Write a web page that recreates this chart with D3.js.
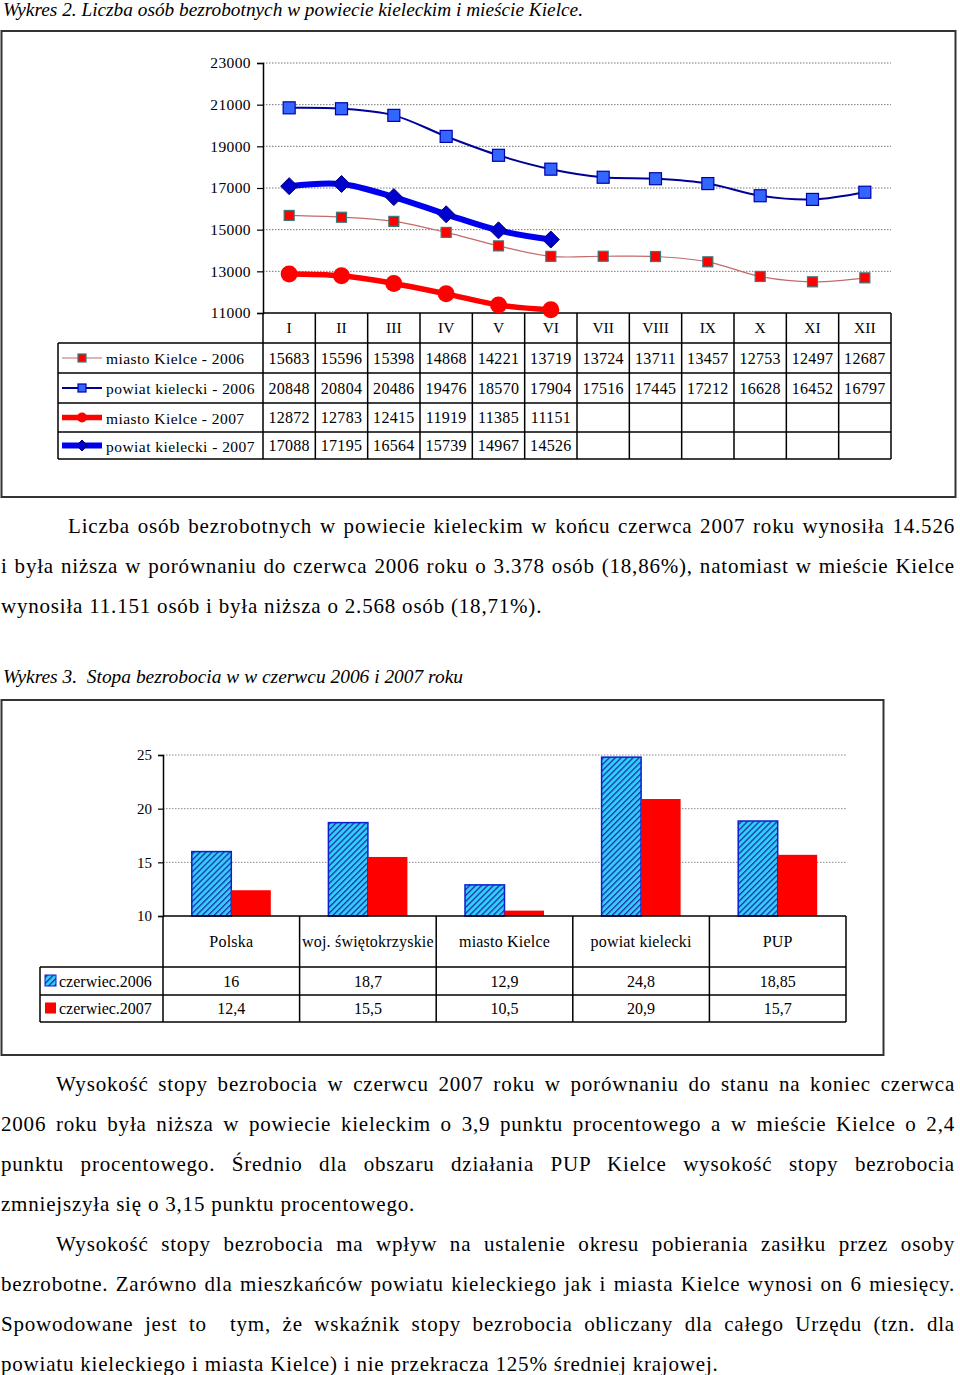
<!DOCTYPE html>
<html><head><meta charset="utf-8">
<script src="https://cdn.jsdelivr.net/npm/d3@7"></script>
<style>
body{margin:0;background:#fff;}
svg{display:block;font-family:"Liberation Serif","Times New Roman",serif;}
</style></head>
<body>
<script>
// ---------- DATA ----------
const months = ["I","II","III","IV","V","VI","VII","VIII","IX","X","XI","XII"];
const seriesNames = ["miasto Kielce - 2006","powiat kielecki - 2006","miasto Kielce - 2007","powiat kielecki - 2007"];
const miasto2006 = [15683,15596,15398,14868,14221,13719,13724,13711,13457,12753,12497,12687];
const powiat2006 = [20848,20804,20486,19476,18570,17904,17516,17445,17212,16628,16452,16797];
const miasto2007 = [12872,12783,12415,11919,11385,11151];
const powiat2007 = [17088,17195,16564,15739,14967,14526];
const lineTicks = [11000,13000,15000,17000,19000,21000,23000];

const barCats = ["Polska","woj. świętokrzyskie","miasto Kielce","powiat kielecki","PUP"];
const barSeries = ["czerwiec.2006","czerwiec.2007"];
const rate2006 = [16,18.7,12.9,24.8,18.85];
const rate2007 = [12.4,15.5,10.5,20.9,15.7];
const rateLabels2006 = ["16","18,7","12,9","24,8","18,85"];
const rateLabels2007 = ["12,4","15,5","10,5","20,9","15,7"];
const barTicks = [10,15,20,25];

const title1 = "Wykres 2. Liczba osób bezrobotnych w powiecie kieleckim i mieście Kielce.";
const title2 = "Wykres 3.  Stopa bezrobocia w w czerwcu 2006 i 2007 roku";
const para1 = [
 {t:"Liczba osób bezrobotnych w powiecie kieleckim w końcu czerwca 2007 roku wynosiła 14.526", indent:true, just:true},
 {t:"i była niższa w porównaniu do czerwca 2006 roku o 3.378 osób (18,86%), natomiast w mieście Kielce", just:true},
 {t:"wynosiła 11.151 osób i była niższa o 2.568 osób (18,71%).", just:false}
];
const para2 = [
 {t:"Wysokość stopy bezrobocia w czerwcu 2007 roku w porównaniu do stanu na koniec czerwca", indent:true, just:true},
 {t:"2006 roku była niższa w powiecie kieleckim o 3,9 punktu procentowego a w mieście Kielce o 2,4", just:true},
 {t:"punktu procentowego. Średnio dla obszaru działania PUP Kielce wysokość stopy bezrobocia", just:true},
 {t:"zmniejszyła się o 3,15 punktu procentowego.", just:false},
 {t:"Wysokość stopy bezrobocia ma wpływ na ustalenie okresu pobierania zasiłku przez osoby", indent:true, just:true},
 {t:"bezrobotne. Zarówno dla mieszkańców powiatu kieleckiego jak i miasta Kielce wynosi on 6 miesięcy.", just:true},
 {t:"Spowodowane jest to  tym, że wskaźnik stopy bezrobocia obliczany dla całego Urzędu (tzn. dla", just:true},
 {t:"powiatu kieleckiego i miasta Kielce) i nie przekracza 125% średniej krajowej.", just:false}
];

// ---------- SVG ----------
const W = 960, H = 1375;
const svg = d3.select("body").append("svg").attr("width",W).attr("height",H);
svg.append("rect").attr("width",W).attr("height",H).attr("fill","#fff");

const defs = svg.append("defs");
const pat = defs.append("pattern").attr("id","hatch").attr("patternUnits","userSpaceOnUse")
  .attr("width",4.2).attr("height",4.2).attr("patternTransform","rotate(45)");
pat.append("rect").attr("width",4.2).attr("height",4.2).attr("fill","#33ccff");
pat.append("line").attr("x1",0.6).attr("y1",0).attr("x2",0.6).attr("y2",4.2).attr("stroke","#1a2a99").attr("stroke-width",1.3);

// titles
svg.append("text").attr("x",3).attr("y",16).attr("font-size",19).attr("font-style","italic")
  .attr("textLength",580).attr("lengthAdjust","spacingAndGlyphs").text(title1);
svg.append("text").attr("x",3).attr("y",683).attr("font-size",19).attr("font-style","italic")
  .style("white-space","pre").attr("textLength",460).attr("lengthAdjust","spacingAndGlyphs").text(title2);

// frames
svg.append("rect").attr("x",1.5).attr("y",31).attr("width",954).attr("height",466)
  .attr("fill","none").attr("stroke","#333").attr("stroke-width",2);
svg.append("rect").attr("x",1.5).attr("y",700).attr("width",882).attr("height",355)
  .attr("fill","none").attr("stroke","#333").attr("stroke-width",2);

// ---------- LINE CHART ----------
const x1 = d3.scaleBand().domain(months).range([263,891]);
const y1 = d3.scaleLinear().domain([11000,23000]).range([313,63]);
const cx = m => x1(m) + x1.bandwidth()/2;
const g1 = svg.append("g");

g1.selectAll(".grid").data(lineTicks.filter(d=>d!==11000)).join("line")
  .attr("x1",263).attr("x2",891).attr("y1",d=>y1(d)).attr("y2",d=>y1(d))
  .attr("stroke","#777").attr("stroke-width",1).attr("stroke-dasharray","1.5,1.5");
const yAxis1 = d3.axisLeft(y1).tickValues(lineTicks).tickSize(6).tickFormat(d3.format("d"));
const ya = g1.append("g").attr("transform","translate(263,0)").call(yAxis1);
ya.select(".domain").attr("stroke","#000").attr("stroke-width",1.5);
ya.selectAll(".tick line").attr("stroke","#000").attr("stroke-width",1.2);
ya.selectAll(".tick text").attr("font-family","Liberation Serif").attr("font-size",15.5)
  .attr("fill","#000").attr("x",-12).attr("letter-spacing",0.4);

const rowTop = [343,373,403,432];
const rowBot = 459;
const tbl = g1.append("g").attr("stroke","#000").attr("stroke-width",1.5);
months.forEach(m=>{
  tbl.append("line").attr("x1",x1(m)).attr("x2",x1(m)).attr("y1",313).attr("y2",rowBot);
});
tbl.append("line").attr("x1",891).attr("x2",891).attr("y1",313).attr("y2",rowBot);
tbl.append("line").attr("x1",58).attr("x2",58).attr("y1",343).attr("y2",rowBot);
tbl.append("line").attr("x1",263).attr("x2",891).attr("y1",313).attr("y2",313);
rowTop.concat([rowBot]).forEach(yy=>{
  tbl.append("line").attr("x1",58).attr("x2",891).attr("y1",yy).attr("y2",yy);
});
g1.selectAll(".mlab").data(months).join("text")
  .attr("x",d=>cx(d)).attr("y",333).attr("text-anchor","middle").attr("font-size",15.5).text(d=>d);

const allSeries = [miasto2006,powiat2006,miasto2007,powiat2007];
allSeries.forEach((vals,si)=>{
  const yc = (rowTop[si] + (si<3?rowTop[si+1]:rowBot))/2;
  g1.selectAll(".v"+si).data(vals).join("text")
    .attr("x",(d,i)=>cx(months[i])).attr("y",yc+5.5).attr("text-anchor","middle")
    .attr("font-size",16).attr("letter-spacing",0.3).text(d=>d);
  g1.append("text").attr("x",106).attr("y",yc+6).attr("font-size",15.5).attr("letter-spacing",0.45)
    .text(seriesNames[si]);
});

const styles = [
  {line:"#c46a6a", lw:1.2, marker:"sq", size:10, fill:"#ff0000", stroke:"#3a7a7a"},
  {line:"#000099", lw:2, marker:"sq", size:12, fill:"#3366ff", stroke:"#0000aa"},
  {line:"#ff0000", lw:5.5, marker:"circle", size:8.5, fill:"#ff0000", stroke:"#ff0000"},
  {line:"#0000ee", lw:6, marker:"diamond", size:17, fill:"#0000cc", stroke:"#00007a"}
];
const lineGen = d3.line().x((d,i)=>cx(months[i])).y(d=>y1(d)).curve(d3.curveCatmullRom.alpha(0.5));

function drawMarker(sel, st, x, y){
  if(st.marker==="sq"){
    sel.append("rect").attr("x",x-st.size/2).attr("y",y-st.size/2).attr("width",st.size).attr("height",st.size)
      .attr("fill",st.fill).attr("stroke",st.stroke).attr("stroke-width",1.2);
  } else if(st.marker==="circle"){
    sel.append("circle").attr("cx",x).attr("cy",y).attr("r",st.size).attr("fill",st.fill);
  } else {
    const s = st.size/2;
    sel.append("path").attr("d",`M${x},${y-s}L${x+s},${y}L${x},${y+s}L${x-s},${y}Z`)
      .attr("fill",st.fill).attr("stroke",st.stroke).attr("stroke-width",1);
  }
}
[0,1,2,3].forEach(si=>{
  const st = styles[si], vals = allSeries[si];
  g1.append("path").datum(vals).attr("d",lineGen).attr("fill","none")
    .attr("stroke",st.line).attr("stroke-width",st.lw).attr("stroke-linejoin","round");
  const mg = g1.append("g");
  vals.forEach((v,i)=>drawMarker(mg, st, cx(months[i]), y1(v)));
  const yc = (rowTop[si] + (si<3?rowTop[si+1]:rowBot))/2;
  g1.append("line").attr("x1",62).attr("x2",102).attr("y1",yc).attr("y2",yc)
    .attr("stroke",st.line).attr("stroke-width",st.lw);
  const small = Object.assign({},st,{size: st.marker==="circle"?5: st.marker==="diamond"?11:8});
  drawMarker(g1, small, 82, yc);
});

// ---------- BAR CHART ----------
const x2 = d3.scaleBand().domain(barCats).range([163,846]);
const y2 = d3.scaleLinear().domain([10,25]).range([916,755]);
const bw = 39.5;
const xs = d3.scaleBand().domain(barSeries).range([x2.bandwidth()/2-bw, x2.bandwidth()/2+bw]);
const g2 = svg.append("g");

g2.selectAll(".grid2").data(barTicks.filter(d=>d!==10)).join("line")
  .attr("x1",163).attr("x2",846).attr("y1",d=>y2(d)).attr("y2",d=>y2(d))
  .attr("stroke","#888").attr("stroke-width",1).attr("stroke-dasharray","1.5,1.5");

const yAxis2 = d3.axisLeft(y2).tickValues(barTicks).tickSize(5).tickFormat(d3.format("d"));
const ya2 = g2.append("g").attr("transform","translate(163,0)").call(yAxis2);
ya2.select(".domain").attr("stroke","#000").attr("stroke-width",1.5);
ya2.selectAll(".tick line").attr("stroke","#000").attr("stroke-width",1.2);
ya2.selectAll(".tick text").attr("font-family","Liberation Serif").attr("font-size",15)
  .attr("fill","#000").attr("x",-11);

const barData = [rate2006, rate2007];
barData.forEach((vals,si)=>{
  g2.selectAll(".b"+si).data(vals).join("rect")
    .attr("x",(d,i)=>x2(barCats[i]) + xs(barSeries[si]))
    .attr("y",d=>y2(d)).attr("width",xs.bandwidth()).attr("height",d=>y2(10)-y2(d))
    .attr("fill", si===0 ? "url(#hatch)" : "#ff0000")
    .attr("stroke", si===0 ? "#0a1fd0" : "none").attr("stroke-width",1.5);
});

const t2 = g2.append("g").attr("stroke","#000").attr("stroke-width",1.5);
const bRows = [967,995,1022];
barCats.forEach(c=>{
  t2.append("line").attr("x1",x2(c)).attr("x2",x2(c)).attr("y1",916).attr("y2",1022);
});
t2.append("line").attr("x1",846).attr("x2",846).attr("y1",916).attr("y2",1022);
t2.append("line").attr("x1",163).attr("x2",846).attr("y1",916).attr("y2",916);
t2.append("line").attr("x1",40).attr("x2",40).attr("y1",967).attr("y2",1022);
bRows.forEach(yy=>t2.append("line").attr("x1",40).attr("x2",846).attr("y1",yy).attr("y2",yy));

g2.selectAll(".clab").data(barCats).join("text")
  .attr("x",d=>x2(d)+x2.bandwidth()/2).attr("y",947).attr("text-anchor","middle")
  .attr("font-size",16).attr("letter-spacing",0.2).text(d=>d);
const labelSets = [rateLabels2006, rateLabels2007];
labelSets.forEach((labs,si)=>{
  const yc = (bRows[si]+bRows[si+1])/2;
  g2.selectAll(".rl"+si).data(labs).join("text")
    .attr("x",(d,i)=>x2(barCats[i])+x2.bandwidth()/2).attr("y",yc+5.5).attr("text-anchor","middle")
    .attr("font-size",16).text(d=>d);
  g2.append("rect").attr("x",45).attr("y",yc-6).attr("width",11).attr("height",11)
    .attr("fill", si===0 ? "url(#hatch)" : "#ff0000")
    .attr("stroke", si===0 ? "#0a1fd0" : "none").attr("stroke-width",1);
  g2.append("text").attr("x",59).attr("y",yc+5.5).attr("font-size",16).text(barSeries[si]);
});

// ---------- PARAGRAPHS ----------
function drawPara(lines, y0, indentX){
  lines.forEach((ln,i)=>{
    const x = ln.indent ? indentX : 1;
    const t = svg.append("text").attr("x",x).attr("y",y0+i*40).attr("font-size",21)
      .attr("letter-spacing",0.8).style("white-space","pre").text(ln.t);
    if(ln.just){
      const target = 955 - x;
      const nat = t.node().getComputedTextLength();
      const spaces = (ln.t.match(/ /g)||[]).length;
      if(spaces>0) t.attr("word-spacing", (target-nat)/spaces);
    }
  });
}
drawPara(para1, 533, 68);
drawPara(para2, 1091, 56);
</script>
</body></html>
